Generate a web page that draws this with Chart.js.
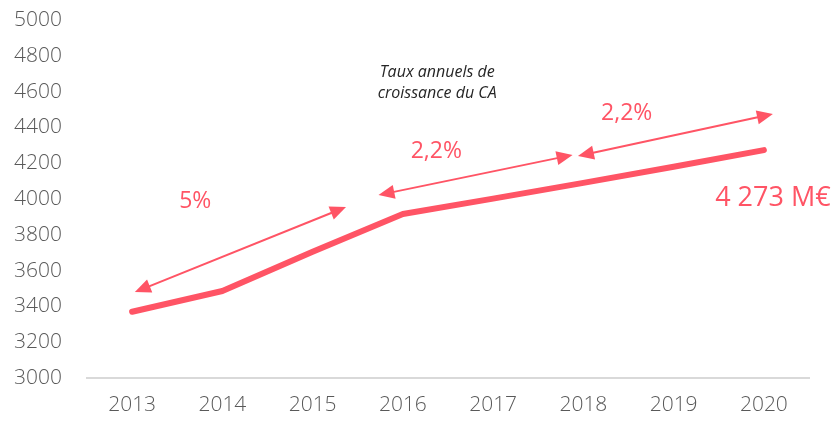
<!DOCTYPE html>
<html>
<head>
<meta charset="utf-8">
<script src="https://cdn.jsdelivr.net/npm/chart.js@4"></script>
<style>
  html, body { margin: 0; padding: 0; background: #ffffff; }
  #wrap { width: 835px; height: 423px; position: relative; }
</style>
</head>
<body>
<div id="wrap"><canvas id="c" width="835" height="423"></canvas></div>
<script>
// ---- data ----
const years = ['2013', '2014', '2015', '2016', '2017', '2018', '2019', '2020'];
const revenue = [3370, 3486, 3705, 3916, 4002, 4090, 4180, 4273];
const yMin = 3000;
const yMax = 5000;
const yStep = 200;

// growth-rate arrows (x in category index, y in data units)
const arrowFromX = [0.03, 2.73, 4.94];
const arrowFromY = [3480, 4022, 4240];
const arrowToX = [2.37, 4.88, 7.10];
const arrowToY = [3955, 4246, 4475];
const growthLabels = ['5%', '2,2%', '2,2%'];
const growthLabelX = [0.70, 3.37, 5.48];
const growthLabelY = [3989, 4263, 4480];

const noteLines = ['Taux annuels de', 'croissance du CA'];
const noteX = 3.38;
const noteY = [4709, 4592];

const finalLabel = '4 273 M€';
const finalLabelX = 7.10;
const finalLabelY = 4006;

const RED = '#FF5465';
const FONT = "'Open Sans', 'Noto Sans', sans-serif";

function drawArrowHead(ctx, x, y, angle) {
  const len = 16, half = 7;
  ctx.save();
  ctx.translate(x, y);
  ctx.rotate(angle);
  ctx.beginPath();
  ctx.moveTo(0, 0);
  ctx.lineTo(-len, -half);
  ctx.lineTo(-len, half);
  ctx.closePath();
  ctx.fill();
  ctx.restore();
}

const annotationPlugin = {
  id: 'annotations',
  afterDatasetsDraw(chart) {
    const ctx = chart.ctx;
    const xs = chart.scales.x, ys = chart.scales.y;
    ctx.save();
    ctx.strokeStyle = RED;
    ctx.fillStyle = RED;
    ctx.lineWidth = 2;
    for (let i = 0; i < arrowFromX.length; i++) {
      const x1 = xs.getPixelForValue(arrowFromX[i]);
      const y1 = ys.getPixelForValue(arrowFromY[i]);
      const x2 = xs.getPixelForValue(arrowToX[i]);
      const y2 = ys.getPixelForValue(arrowToY[i]);
      const ang = Math.atan2(y2 - y1, x2 - x1);
      const inset = 12;
      ctx.beginPath();
      ctx.moveTo(x1 + Math.cos(ang) * inset, y1 + Math.sin(ang) * inset);
      ctx.lineTo(x2 - Math.cos(ang) * inset, y2 - Math.sin(ang) * inset);
      ctx.stroke();
      drawArrowHead(ctx, x2, y2, ang);
      drawArrowHead(ctx, x1, y1, ang + Math.PI);
    }
    ctx.textAlign = 'center';
    ctx.textBaseline = 'middle';
    ctx.font = "23px " + FONT;
    for (let i = 0; i < growthLabels.length; i++) {
      ctx.fillText(growthLabels[i], xs.getPixelForValue(growthLabelX[i]), ys.getPixelForValue(growthLabelY[i]));
    }
    ctx.font = "27px " + FONT;
    ctx.fillText(finalLabel, xs.getPixelForValue(finalLabelX), ys.getPixelForValue(finalLabelY));
    ctx.fillStyle = '#262626';
    ctx.font = "italic 16px " + FONT;
    for (let i = 0; i < noteLines.length; i++) {
      ctx.fillText(noteLines[i], xs.getPixelForValue(noteX), ys.getPixelForValue(noteY[i]));
    }
    ctx.restore();
  }
};

new Chart(document.getElementById('c'), {
  type: 'line',
  data: {
    labels: years,
    datasets: [{
      data: revenue,
      borderColor: RED,
      backgroundColor: RED,
      borderWidth: 6,
      borderCapStyle: 'round',
      borderJoinStyle: 'round',
      pointRadius: 0,
      tension: 0,
      fill: false
    }]
  },
  options: {
    responsive: false,
    animation: false,
    layout: { padding: { top: 20, right: 26, bottom: 0, left: 0 } },
    plugins: { legend: { display: false }, tooltip: { enabled: false } },
    scales: {
      x: {
        offset: true,
        grid: { display: false, drawTicks: false },
        border: { display: true, color: '#D9D9D9', width: 2 },
        ticks: { color: '#595959', font: { family: FONT, size: 21, weight: '300' }, padding: 14, maxRotation: 0 },
        afterFit(scale) { scale.height = 45; scale.paddingLeft = 0; scale.paddingRight = 0; }
      },
      y: {
        min: yMin,
        max: yMax,
        grid: { display: false, drawTicks: false },
        border: { display: false },
        ticks: {
          stepSize: yStep,
          color: '#595959',
          font: { family: FONT, size: 21, weight: '300' },
          padding: 25,
          callback: (v) => String(v)
        },
        afterFit(scale) { scale.width = 87; scale.paddingTop = 0; scale.paddingBottom = 0; }
      }
    }
  },
  plugins: [annotationPlugin]
});
</script>
</body>
</html>
